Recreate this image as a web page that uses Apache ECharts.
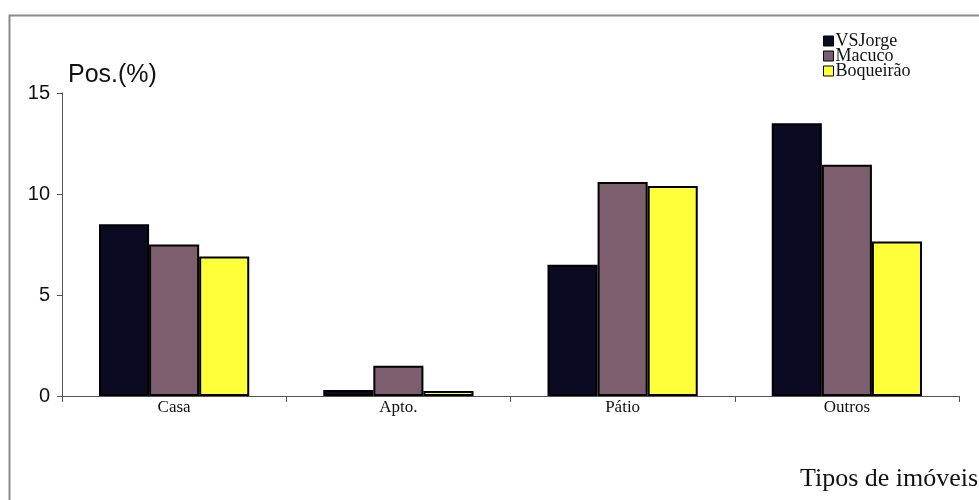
<!DOCTYPE html>
<html>
<head>
<meta charset="utf-8">
<script src="https://cdn.jsdelivr.net/npm/echarts@6/dist/echarts.min.js"></script>
<style>
  html, body { margin: 0; padding: 0; background: #fff; }
  #chart { width: 979px; height: 500px; }
</style>
</head>
<body>
<div id="chart"></div>
<script>
// Property types and share of positives (%) per neighbourhood
const categories = ['Casa', 'Apto.', 'Pátio', 'Outros'];
const vsJorge    = [8.5, 0.3, 6.5, 13.5];
const macuco     = [7.5, 1.5, 10.6, 11.45];
const boqueirao  = [6.9, 0.25, 10.4, 7.65];
const yTicks = { min: 0, max: 15, interval: 5 };

const serif = '"Liberation Serif", "Times New Roman", serif';
const sans = '"Liberation Sans", Arial, sans-serif';

const barBorder = { borderColor: '#000', borderWidth: 2 };

const chart = echarts.init(document.getElementById('chart'), null, { renderer: 'canvas' });
chart.setOption({
  animation: false,
  backgroundColor: '#fff',
  graphic: [
    {
      type: 'polyline',
      shape: { points: [[9.5, 520], [9.5, 15.5], [1000, 15.5]] },
      style: { stroke: '#8a8a8a', lineWidth: 2, fill: null },
      silent: true
    }
  ],
  title: {
    text: 'Tipos de imóveis',
    left: 800,
    top: 466,
    textStyle: { fontFamily: serif, fontSize: 26, fontWeight: 'normal', color: '#111' },
    padding: 0
  },
  legend: {
    orient: 'vertical',
    left: 818,
    top: 27,
    itemWidth: 10,
    itemHeight: 10,
    itemGap: -3,
    icon: 'rect',
    textStyle: { fontFamily: serif, fontSize: 18, color: '#111', padding: [0, 0, 0, -3] },
    itemStyle: { borderColor: '#000', borderWidth: 1 },
    data: ['VSJorge', 'Macuco', 'Boqueirão']
  },
  grid: { left: 62, right: 20, top: 93, bottom: 104, containLabel: false },
  xAxis: {
    type: 'category',
    data: categories,
    axisLine: { lineStyle: { color: '#555', width: 1 } },
    axisTick: { show: true, length: 6, lineStyle: { color: '#555' } },
    axisLabel: { fontFamily: serif, fontSize: 17, color: '#111', margin: 3 }
  },
  yAxis: {
    type: 'value',
    min: yTicks.min,
    max: yTicks.max,
    interval: yTicks.interval,
    name: 'Pos.(%)',
    nameLocation: 'end',
    nameGap: 5,
    nameTextStyle: { fontFamily: sans, fontSize: 25, color: '#111', align: 'left', padding: [0, 0, 0, 6] },
    axisLine: { show: true, lineStyle: { color: '#555', width: 1 } },
    axisTick: { show: true, length: 5, lineStyle: { color: '#555' } },
    axisLabel: { fontFamily: sans, fontSize: 20, color: '#111', margin: 12 },
    splitLine: { show: false }
  },
  series: [
    {
      name: 'VSJorge', type: 'bar', data: vsJorge,
      barGap: '0%', barCategoryGap: '33%',
      itemStyle: Object.assign({ color: '#0a0a22' }, barBorder)
    },
    {
      name: 'Macuco', type: 'bar', data: macuco,
      itemStyle: Object.assign({ color: '#7c5e6e' }, barBorder)
    },
    {
      name: 'Boqueirão', type: 'bar', data: boqueirao,
      itemStyle: Object.assign({ color: '#ffff3a' }, barBorder)
    }
  ]
});
</script>
</body>
</html>
